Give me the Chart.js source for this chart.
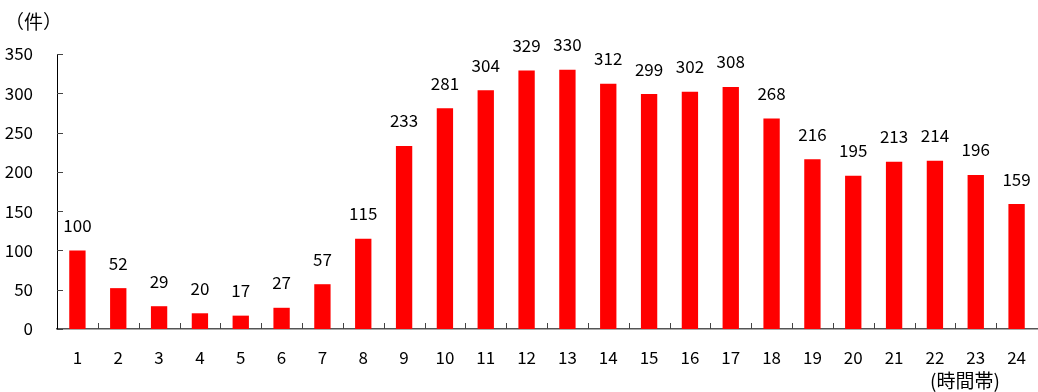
<!DOCTYPE html>
<html>
<head>
<meta charset="utf-8">
<script src="https://cdn.jsdelivr.net/npm/chart.js@4"></script>
<style>
  html, body { margin: 0; padding: 0; background: #fff; }
  #wrap { width: 1038px; height: 392px; }
</style>
</head>
<body>
<div id="wrap"><canvas id="c"></canvas></div>
<script>
// hours 1-24, counts per hour
const hours = ['1','2','3','4','5','6','7','8','9','10','11','12','13','14','15','16','17','18','19','20','21','22','23','24'];
const counts = [100, 52, 29, 20, 17, 27, 57, 115, 233, 281, 304, 329, 330, 312, 299, 302, 308, 268, 216, 195, 213, 214, 196, 159];
const yTicks = [0, 50, 100, 150, 200, 250, 300, 350];

const FONT = '"Noto Sans CJK JP", "Noto Sans", sans-serif';

// value labels, inward ticks, unit labels
const extras = {
    id: 'extras',
    afterDatasetsDraw(chart) {
        const ctx = chart.ctx;
        const meta = chart.getDatasetMeta(0);
        ctx.save();
        ctx.fillStyle = '#000';
        ctx.font = '17px ' + FONT;
        ctx.textAlign = 'center';
        ctx.textBaseline = 'middle';
        meta.data.forEach((bar, i) => {
            ctx.fillText(counts[i], bar.x, bar.y - 25);
        });
        ctx.restore();
    },
    afterDraw(chart) {
        const ctx = chart.ctx;
        const x = chart.scales.x, y = chart.scales.y;
        ctx.save();
        // x ticks between categories, pointing up
        ctx.strokeStyle = '#444';
        ctx.lineWidth = 1;
        ctx.beginPath();
        for (let i = 1; i < hours.length; i++) {
            const px = Math.round((x.getPixelForValue(i - 1) + x.getPixelForValue(i)) / 2) + 0.5;
            ctx.moveTo(px, y.bottom);
            ctx.lineTo(px, y.bottom - 6);
        }
        // y ticks pointing right
        yTicks.forEach(v => {
            const py = Math.round(y.getPixelForValue(v)) + 0.5;
            ctx.moveTo(x.left, py);
            ctx.lineTo(x.left + 6, py);
        });
        ctx.stroke();
        // unit labels
        ctx.fillStyle = '#000';
        ctx.font = '19px ' + FONT;
        ctx.textBaseline = 'middle';
        ctx.textAlign = 'left';
        ctx.fillText('（件）', 5, 22);
        ctx.textAlign = 'center';
        ctx.fillText('(時間帯)', 965, 381);
        ctx.restore();
    }
};

new Chart('c', {
    type: 'bar',
    data: {
        labels: hours,
        datasets: [{
            data: counts,
            backgroundColor: '#ff0000',
            barPercentage: 0.4,
            categoryPercentage: 1.0
        }]
    },
    options: {
        responsive: true,
        maintainAspectRatio: false,
        animation: false,
        layout: { padding: { top: 54, right: 1, left: 0, bottom: 0 } },
        plugins: { legend: { display: false }, tooltip: { enabled: false } },
        scales: {
            x: {
                offset: true,
                grid: { display: false },
                border: { display: true, color: '#555', width: 1.5 },
                ticks: { color: '#000', font: { size: 17, family: FONT }, padding: 10, maxRotation: 0 },
                afterFit(s) { s.height = 63; }
            },
            y: {
                min: 0,
                max: 350,
                grid: { display: false },
                border: { display: true, color: '#000', width: 1 },
                ticks: { stepSize: 50, color: '#000', font: { size: 17, family: FONT }, padding: 16 },
                afterFit(s) { s.width = 57; }
            }
        }
    },
    plugins: [extras]
});
</script>
</body>
</html>
